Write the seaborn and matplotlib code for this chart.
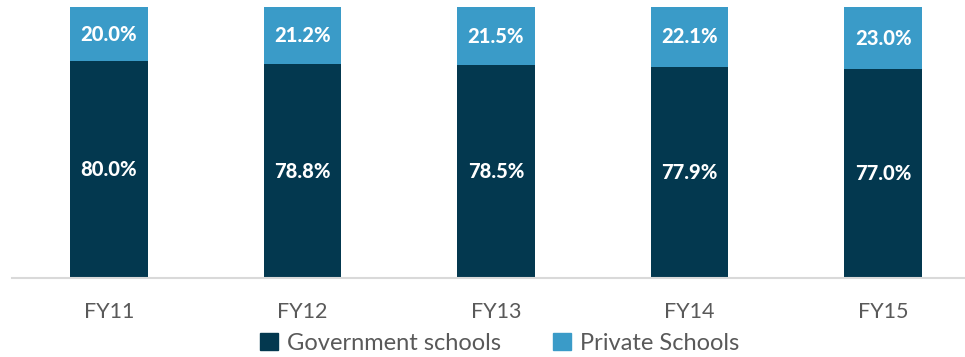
import pandas as pd
import seaborn as sns
import matplotlib.pyplot as plt
from matplotlib.patches import Patch

# Share of schools by type, per fiscal year
years = ["FY11", "FY12", "FY13", "FY14", "FY15"]
government = [80.0, 78.8, 78.5, 77.9, 77.0]
private = [20.0, 21.2, 21.5, 22.1, 23.0]

dark = "#03384F"
light = "#3A9BC8"

df = pd.DataFrame({"year": years, "gov": government, "priv": private})

sns.set_style("white")
plt.rcParams['font.family'] = ['Lato', 'DejaVu Sans']

fig = plt.figure(figsize=(9.65, 3.57), dpi=100)
ax = fig.add_axes([12 / 965, 1 - 278 / 357, 968 / 965, 271 / 357])

sns.barplot(data=df, x="year", y="gov", color=dark, width=0.40,
            saturation=1, linewidth=0, ax=ax)
sns.barplot(data=df, x="year", y="priv", color=light, width=0.40,
            saturation=1, linewidth=0, bottom=df["gov"], ax=ax)

# value labels
for i, (g, p) in enumerate(zip(government, private)):
    ax.text(i, g / 2, f"{g:.1f}%", ha="center", va="center",
            color="white", fontsize=14.5, fontweight="black")
    ax.text(i, g + p / 2, f"{p:.1f}%", ha="center", va="center",
            color="white", fontsize=14.5, fontweight="black")

ax.set_ylim(0, 100)
ax.set_xlim(-0.5, 4.5)
ax.set_xlabel("")
ax.set_ylabel("")
ax.set_yticks([])
for s in ["top", "right", "left"]:
    ax.spines[s].set_visible(False)
ax.spines["bottom"].set_color("#D9D9D9")
ax.spines["bottom"].set_linewidth(1.5)
ax.tick_params(axis="x", length=0, pad=17, labelsize=15.5, labelcolor="#595959")

handles = [Patch(color=dark, label="Government schools"),
           Patch(color=light, label="Private Schools")]
fig.legend(handles=handles, loc="center", ncol=2,
           bbox_to_anchor=(500 / 965, 1 - 343 / 357), frameon=False,
           fontsize=17, labelcolor="#595959", handlelength=0.75,
           handleheight=0.75, handletextpad=0.4, columnspacing=2.2)

fig.savefig("out.png", dpi=100)
